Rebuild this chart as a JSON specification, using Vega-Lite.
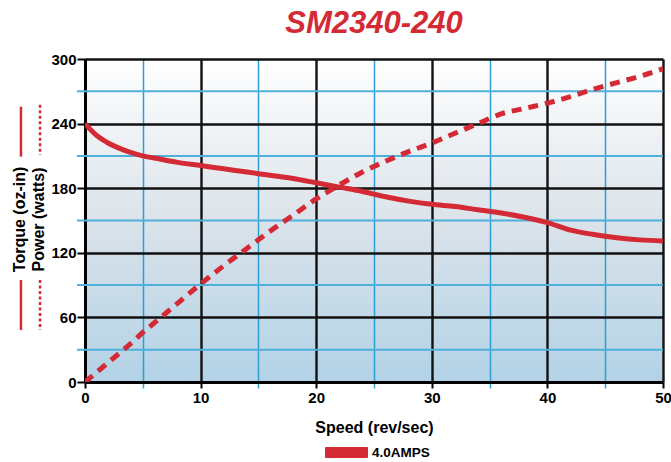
{
  "$schema": "https://vega.github.io/schema/vega-lite/v6.json",
  "width": 578,
  "height": 323,
  "autosize": {"type": "none"},
  "padding": {"left": 85, "top": 59, "right": 8, "bottom": 80},
  "background": "white",
  "title": {
    "text": "SM2340-240",
    "font": "Liberation Sans",
    "fontSize": 31,
    "fontWeight": "bold",
    "fontStyle": "italic",
    "color": "#d42a35",
    "anchor": "middle",
    "frame": "group",
    "offset": 12
  },
  "config": {
    "view": {
      "stroke": null,
      "fill": {
        "gradient": "linear",
        "x1": 0, "y1": 0, "x2": 0, "y2": 1,
        "stops": [
          {"offset": 0, "color": "#ffffff"},
          {"offset": 0.5, "color": "#dbe3ea"},
          {"offset": 1, "color": "#b2d2e6"}
        ]
      }
    },
    "axis": {
      "labelFont": "Liberation Sans",
      "labelFontWeight": "bold",
      "labelFontSize": 15,
      "labelColor": "black",
      "titleFont": "Liberation Sans",
      "titleFontWeight": "bold",
      "titleFontSize": 16,
      "titleColor": "black",
      "domainColor": "black",
      "domainWidth": 3,
      "tickColor": "black",
      "tickWidth": 2
    },
    "legend": {
      "labelFont": "Liberation Sans",
      "labelFontWeight": "bold",
      "labelFontSize": 13.5,
      "labelColor": "black"
    }
  },
  "data": {
    "values": [
      {"speed": 0, "torque": 240, "power": 0},
      {"speed": 1, "torque": 229, "power": 9},
      {"speed": 2, "torque": 222, "power": 18},
      {"speed": 3, "torque": 217, "power": 27},
      {"speed": 4, "torque": 213, "power": 36},
      {"speed": 5, "torque": 210, "power": 46},
      {"speed": 6, "torque": 208, "power": 55},
      {"speed": 8, "torque": 204, "power": 73},
      {"speed": 10, "torque": 201, "power": 91},
      {"speed": 12, "torque": 198, "power": 108},
      {"speed": 14, "torque": 195, "power": 124},
      {"speed": 16, "torque": 192, "power": 140},
      {"speed": 18, "torque": 189, "power": 155},
      {"speed": 20, "torque": 185, "power": 170},
      {"speed": 22, "torque": 181, "power": 183},
      {"speed": 24, "torque": 177, "power": 195},
      {"speed": 26, "torque": 172, "power": 205},
      {"speed": 28, "torque": 168, "power": 214},
      {"speed": 30, "torque": 165, "power": 222},
      {"speed": 32, "torque": 163, "power": 231},
      {"speed": 34, "torque": 160, "power": 240},
      {"speed": 36, "torque": 157, "power": 249},
      {"speed": 38, "torque": 153, "power": 254},
      {"speed": 40, "torque": 148, "power": 259},
      {"speed": 42, "torque": 141, "power": 265},
      {"speed": 44, "torque": 137, "power": 272},
      {"speed": 46, "torque": 134, "power": 278},
      {"speed": 48, "torque": 132, "power": 284},
      {"speed": 50, "torque": 131, "power": 291}
    ]
  },
  "layer": [
    {
      "data": {"values": [{"minor": 30}, {"minor": 90}, {"minor": 150}, {"minor": 210}, {"minor": 270}]},
      "mark": {"type": "rule", "strokeWidth": 2, "color": "#4fb0dc"},
      "encoding": {
        "y": {"field": "minor", "type": "quantitative"},
        "x": {"datum": -0.69},
        "x2": {"datum": 50}
      }
    },
    {
      "mark": {"type": "line", "strokeWidth": 5, "interpolate": "monotone", "clip": true},
      "encoding": {
        "x": {
          "field": "speed",
          "type": "quantitative",
          "scale": {"domain": [0, 50], "nice": false},
          "axis": {
            "values": [0, 5, 10, 15, 20, 25, 30, 35, 40, 45, 50],
            "labelExpr": "datum.value % 10 === 0 ? datum.label : ''",
            "grid": true,
            "gridColor": {"condition": {"test": "datum.value % 10 === 0", "value": "#111111"}, "value": "#2b9fd3"},
            "gridWidth": {"condition": {"test": "datum.value % 10 === 0", "value": 2.4}, "value": 1.5},
            "gridOpacity": 1,
            "tickColor": {"condition": {"test": "datum.value % 10 === 0", "value": "#000000"}, "value": "#2b9fd3"},
            "tickWidth": {"condition": {"test": "datum.value % 10 === 0", "value": 2}, "value": 1.5},
            "tickSize": 6,
            "labelPadding": 2,
            "labelFlush": false,
            "title": "Speed (rev/sec)",
            "titlePadding": 14
          }
        },
        "y": {
          "field": "torque",
          "type": "quantitative",
          "scale": {"domain": [0, 300], "nice": false},
          "axis": {
            "values": [0, 60, 120, 180, 240, 300],
            "grid": true,
            "gridColor": "#111111",
            "gridWidth": 2.4,
            "gridOpacity": 1,
            "tickSize": 8,
            "labelPadding": 1,
            "labelFlush": false,
            "title": null
          }
        },
        "color": {
          "datum": "4.0AMPS",
          "type": "nominal",
          "scale": {"domain": ["4.0AMPS"], "range": ["#d42a35"]},
          "legend": {
            "title": null,
            "orient": "none",
            "legendX": 240,
            "legendY": 372,
            "padding": 0,
            "symbolType": "M-1,-0.24H1V0.24H-1Z",
            "symbolSize": 1764,
            "symbolFillColor": "#d42a35",
            "symbolStrokeColor": "#7d1a20",
            "symbolStrokeWidth": 1,
            "labelOffset": 4
          }
        }
      }
    },
    {
      "mark": {"type": "line", "strokeWidth": 5, "strokeDash": [10, 7], "interpolate": "monotone", "color": "#d42a35", "clip": true},
      "encoding": {
        "x": {"field": "speed", "type": "quantitative"},
        "y": {"field": "power", "type": "quantitative"}
      }
    },
    {
      "data": {"values": [{"label": "Torque (oz-in)"}]},
      "mark": {"type": "text", "angle": 270, "align": "center", "baseline": "middle", "font": "Liberation Sans", "fontWeight": "bold", "fontSize": 16, "color": "black"},
      "encoding": {"x": {"datum": -5.62}, "y": {"datum": 151}, "text": {"field": "label"}}
    },
    {
      "data": {"values": [{"label": "Power (watts)"}]},
      "mark": {"type": "text", "angle": 270, "align": "center", "baseline": "middle", "font": "Liberation Sans", "fontWeight": "bold", "fontSize": 16, "color": "black"},
      "encoding": {"x": {"datum": -3.98}, "y": {"datum": 151}, "text": {"field": "label"}}
    },
    {
      "data": {"values": [{}]},
      "mark": {"type": "rule", "strokeWidth": 2.5, "color": "#d42a35"},
      "encoding": {"x": {"datum": -5.54}, "y": {"datum": 255.7}, "y2": {"datum": 209.3}}
    },
    {
      "data": {"values": [{}]},
      "mark": {"type": "rule", "strokeWidth": 2.5, "color": "#d42a35"},
      "encoding": {"x": {"datum": -5.54}, "y": {"datum": 94.7}, "y2": {"datum": 48.3}}
    },
    {
      "data": {"values": [{}]},
      "mark": {"type": "rule", "strokeWidth": 2.5, "color": "#d42a35", "strokeDash": [3, 2.5]},
      "encoding": {"x": {"datum": -3.89}, "y": {"datum": 257.5}, "y2": {"datum": 211}}
    },
    {
      "data": {"values": [{}]},
      "mark": {"type": "rule", "strokeWidth": 2.5, "color": "#d42a35", "strokeDash": [3, 2.5]},
      "encoding": {"x": {"datum": -3.89}, "y": {"datum": 94.7}, "y2": {"datum": 48.3}}
    }
  ]
}
